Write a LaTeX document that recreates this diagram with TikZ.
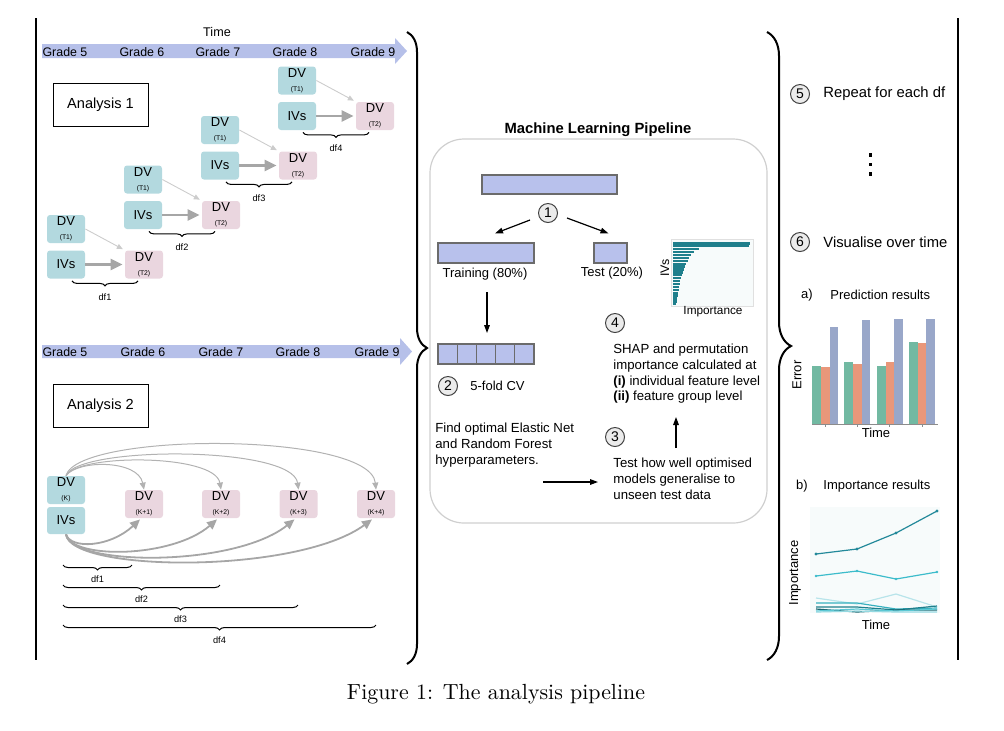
\documentclass[tikz,border=0pt]{standalone}
\usepackage{fontspec}
\setsansfont{Liberation Sans}
\usetikzlibrary{arrows.meta,decorations.pathreplacing,calc}
\definecolor{nblue}{HTML}{B3D9DF}
\definecolor{npink}{HTML}{EAD6DF}
\definecolor{tline}{HTML}{B6C0E9}
\definecolor{dbar}{HTML}{B8C1EC}
\definecolor{dbord}{HTML}{6B6B6B}
\definecolor{garrow}{HTML}{A6A6A6}
\definecolor{larrow}{HTML}{CCCCCC}
\definecolor{panelg}{HTML}{CFCFCF}
\definecolor{tealA}{HTML}{1F7F8C}
\definecolor{tealB}{HTML}{23899A}
\definecolor{cyanB}{HTML}{3CBCCB}
\definecolor{cyanL}{HTML}{B8E4EA}
\definecolor{cyanM}{HTML}{5CC8D4}
\definecolor{cyanP}{HTML}{95D9E1}
\definecolor{chbg}{HTML}{F7FBFB}
\definecolor{sgreen}{HTML}{72B9A2}
\definecolor{sorange}{HTML}{E9977A}
\definecolor{sblue}{HTML}{99A7C9}
\newcommand\fsz[2]{\fontsize{#1pt}{#2pt}\selectfont}
\begin{document}
\begin{tikzpicture}[x=0.5pt,y=-0.5pt,
  base/.style={font=\sffamily\fsz{6.5}{7.8}, inner sep=0pt},
  grade/.style={base, font=\sffamily\fsz{6.2}{7}},
  bn/.style={base, rectangle, rounded corners=1.5pt, fill=nblue, minimum width=19pt, minimum height=14pt, align=center},
  pn/.style={bn, fill=npink},
  anbox/.style={base, draw, line width=0.5pt, minimum width=47.5pt, minimum height=21.5pt, font=\sffamily\fsz{7.3}{8}},
  num/.style={base, circle, draw=black!75, fill=black!8, line width=0.5pt, minimum size=9.5pt, font=\sffamily\fsz{7}{8}},
  dbarst/.style={draw=dbord, fill=dbar, line width=0.6pt, minimum height=10pt, inner sep=0pt},
  dfl/.style={base, font=\sffamily\fsz{4.6}{5}},
  br/.style={line width=0.5pt, decorate, decoration={brace, mirror, amplitude=2.5pt}},
  bigbr/.style={line width=1pt, decorate, decoration={brace, amplitude=#1}},
  blk/.style={line width=0.6pt, -{Triangle[length=4pt,width=2.8pt]}},
  thickg/.style={garrow, line width=1.2pt, -{Triangle[length=6pt,width=5.5pt]}},
  thing/.style={larrow, line width=0.45pt, -{Triangle[length=3pt,width=2.6pt]}},
  thickgb/.style={garrow, line width=0.9pt, -{Triangle[length=5pt,width=4.5pt]}},
  thingb/.style={black!30, line width=0.5pt, -{Triangle[length=3.5pt,width=3pt]}},
  txt/.style={base, align=left, anchor=north west, font=\sffamily\fsz{6.6}{7.8}}
]
\useasboundingbox (0,0) rectangle (1004,730);

% frame lines and braces
\draw[line width=1.2pt] (36,18) -- (36,660);
\draw[line width=1.2pt] (958,18) -- (958,660);
\draw[bigbr=10pt] (407,32) -- (407,664);
\draw[bigbr=12pt] (767,32) -- (767,660);

% ---------- Analysis 1 ----------
\node[grade, font=\sffamily\fsz{6.3}{7}] (time1) at (217,32) {Time};
\fill[tline] (42,44) -- (395,44) -- (395,38) -- (407,51) -- (395,64) -- (395,58) -- (42,58) -- cycle;
\foreach \g/\x in {5/65,6/142,7/218,8/295,9/373}
  \node[grade] (ga\g) at (\x,52) {Grade \g};
\node[anbox] (an1) at (100.5,105) {Analysis 1};

\foreach \i in {0,1,2,3}{
  \pgfmathsetmacro\dx{77*\i}
  \pgfmathsetmacro\dy{49.5*\i}
  \pgfmathtruncatemacro\n{\i+1}
  \node[bn] (dv\i) at (66+\dx,229-\dy) {DV\\[-1pt]{\fsz{3.4}{4}(T1)}};
  \node[bn] (iv\i) at (66+\dx,264.5-\dy) {IVs};
  \node[pn] (dt\i) at (144+\dx,264.5-\dy) {DV\\[-1pt]{\fsz{3.4}{4}(T2)}};
  \draw[thing, shorten >=1pt] (dv\i.east) -- (dt\i.north west);
  \draw[thickg, shorten >=1pt] (iv\i.east) -- (dt\i.west);
  \draw[br] ($(iv\i.south)+(6,2)$) -- ($(dt\i.south)+(-6,2)$);
  \node[dfl] (dfa\n) at ($(iv\i.south)!0.5!(dt\i.south)+(0,18)$) {df\n};
}

% ---------- Analysis 2 ----------
\fill[tline] (42,345) -- (400,345) -- (400,338) -- (412,351.5) -- (400,365) -- (400,358) -- (42,358) -- cycle;
\foreach \g/\x in {5/65,6/143,7/221,8/298,9/377}
  \node[grade] (gb\g) at (\x,352) {Grade \g};
\node[anbox] (an2) at (100.5,406) {Analysis 2};

\node[bn] (dvk) at (66,490) {DV\\[-1pt]{\fsz{3.4}{4}(K)}};
\node[bn, minimum height=13.5pt] (ivk) at (66,520.5) {IVs};
\foreach \n/\x in {1/144,2/221,3/298.5,4/376}
  \node[pn] (k\n) at (\x,504) {DV\\[-1pt]{\fsz{3.4}{4}(K+\n)}};
\foreach \n/\d in {1/16,2/22,3/30,4/44}
  \draw[thingb] (dvk.north) .. controls +(12,-\d) and +(-6,-\d-14) .. (k\n.north);
\foreach \n/\ea/\eb/\cx in {1/15/28/30,2/25/39/45,3/32/48/60,4/38/55/75}
  \draw[thickgb] (ivk.south) .. controls +(5,\ea) and +(-\cx,\eb) .. ($(k\n.south)+(-4,1)$);

\draw[br] (63,565) -- (132,565);
\node[dfl] (dfb1) at (97.5,579) {df1};
\draw[br] (63,585) -- (220,585);
\node[dfl] (dfb2) at (141.5,599) {df2};
\draw[br] (63,605) -- (298,605);
\node[dfl] (dfb3) at (180.5,619) {df3};
\draw[br] (63,625) -- (376,625);
\node[dfl] (dfb4) at (219.5,640) {df4};

% ---------- ML pipeline ----------
\node[base, font=\sffamily\bfseries\fsz{7.4}{8}] (mlp) at (598,130) {Machine Learning Pipeline};
\draw[panelg, line width=0.6pt, rounded corners=17pt] (430,139) rectangle (767,523);

\node[dbarst, minimum width=67.5pt, minimum height=9.5pt] (full) at (549.5,184.5) {};
\node[num] (c1) at (548,213) {1};
\node[dbarst, minimum width=48pt] (train) at (486,253) {};
\node[dbarst, minimum width=16.5pt] (test) at (610.5,253) {};
\node[base] (trainl) at (485,274) {Training (80\%)};
\node[base] (testl) at (612,273) {Test (20\%)};
\draw[blk] ($(c1)+(-18,7)$) -- ($(train.north)+(9,-9)$);
\draw[blk] ($(c1)+(19,5)$) -- ($(test.north)+(-2,-9)$);

% importance mini chart
\fill[chbg] (671,239) rectangle (753,306);
\draw[black!12, line width=0.4pt] (671,239) rectangle (753,306);
\foreach \L [count=\j] in {77,76,26,21,18,16,15,13,12,11,10,9,8,7,6.5,6,5.5,5,4.5,4,3.5,3}
  \fill[tealA] (673,239.3+2.9*\j) rectangle ++(\L,2.3);
\node[base, rotate=90, font=\sffamily\fsz{6.2}{7}] (ivsl) at (665,268) {IVs};
\node[base, font=\sffamily\fsz{5.9}{7}] (impl) at (713,312) {Importance};

% 5-fold CV
\coordinate (td0) at (487,292);
\coordinate (td1) at (487,333);
\draw[blk] (td0) -- (td1);
\foreach \k in {0,...,4}
  \node[dbarst, minimum width=9.6pt] (cv\k) at (447.6+19.2*\k,354) {};
\node[num] (c2) at (448,386) {2};
\node[base, anchor=west, font=\sffamily\fsz{6.5}{7.8}] (cvl) at (470,386) {5-fold CV};
\node[txt] (findt) at (435,423) {Find optimal Elastic Net\\and Random Forest\\hyperparameters.};
\coordinate (ha0) at (543,482);
\coordinate (ha1) at (598,482);
\draw[blk] (ha0) -- (ha1);

\node[num] (c3) at (615,437) {3};
\node[txt, font=\sffamily\fsz{6.6}{8}] (testt) at (613,458) {Test how well optimised\\models generalise to\\unseen test data};
\coordinate (ua0) at (676,448);
\coordinate (ua1) at (676,417);
\draw[blk] (ua0) -- (ua1);

\node[num] (c4) at (615,323) {4};
\node[txt] (shapt) at (613,344) {SHAP and permutation\\importance calculated at\\\textbf{(i)} individual feature level\\\textbf{(ii)} feature group level};

% ---------- right column ----------
\node[num] (c5) at (800,94) {5};
\node[base, anchor=west, font=\sffamily\fsz{7.4}{8}] (rep) at (823,94) {Repeat for each df};
\foreach \yy in {155,164.5,174}
  \fill (868.5,\yy-1.6) rectangle (871.5,\yy+1.6);
\node[num] (c6) at (800,242) {6};
\node[base, anchor=west, font=\sffamily\fsz{7.4}{8}] (vis) at (823,242) {Visualise over time};

\node[base] (la) at (807,295) {a)};
\node[base, anchor=west] (pred) at (830,295) {Prediction results};
% bar chart
\fill[sgreen]  (812,366) rectangle (821,424);
\fill[sorange] (821,366.5) rectangle (829.5,424);
\fill[sblue]   (829.5,327) rectangle (838,424);
\fill[sgreen]  (844,362) rectangle (853,424);
\fill[sorange] (853,364) rectangle (861.5,424);
\fill[sblue]   (861.5,320) rectangle (870,424);
\fill[sgreen]  (877,366) rectangle (885.5,424);
\fill[sorange] (885.5,362) rectangle (894,424);
\fill[sblue]   (894,319) rectangle (903,424);
\fill[sgreen]  (909,342) rectangle (917.5,424);
\fill[sorange] (917.5,343) rectangle (926,424);
\fill[sblue]   (926,319) rectangle (935,424);
\draw[black!45, line width=0.5pt] (812,424) -- (938,424);
\foreach \tx in {825,857,889,922}
  \draw[black!45, line width=0.4pt] (\tx,424) -- (\tx,426.5);
\node[base, rotate=90] (errl) at (797,375) {Error};
\node[base] (timeb) at (876,433) {Time};

\node[base] (lb) at (802,486) {b)};
\node[base, anchor=west] (impr) at (823,486) {Importance results};
% line chart
\fill[chbg] (810,507) rectangle (940,613);
\begin{scope}[line width=0.6pt]
\draw[cyanL] (816,598) -- (857,604) -- (896,594) -- (937,607);
\draw[tealB] (816,554) -- (857,549) -- (896,533) -- (937,511);
\draw[cyanB] (816,576) -- (857,571) -- (896,579) -- (937,572);
\draw[cyanB!80!tealA] (816,603) -- (857,603) -- (896,609) -- (937,608);
\draw[tealA] (816,607) -- (857,607) -- (896,610) -- (937,606);
\draw[tealA!80!black] (816,609) -- (857,612) -- (896,610) -- (937,610);
\draw[cyanM] (816,611) -- (857,609) -- (896,611) -- (937,609);
\draw[cyanP] (816,612) -- (857,611) -- (896,612) -- (937,612);
\end{scope}
\foreach \px/\py in {816/554,857/549,896/533,937/511}
  \fill[tealB] (\px,\py) circle (0.8pt);
\foreach \px/\py in {816/576,857/571,896/579,937/572}
  \fill[cyanB] (\px,\py) circle (0.7pt);
\node[base, rotate=90] (impv) at (795,573) {Importance};
\node[base] (timec) at (876,625) {Time};

% caption
\node[font=\rmfamily\fsz{10.95}{13}, inner sep=0pt] (cap) at (496,694) {Figure 1: The analysis pipeline};
\end{tikzpicture}
\end{document}
